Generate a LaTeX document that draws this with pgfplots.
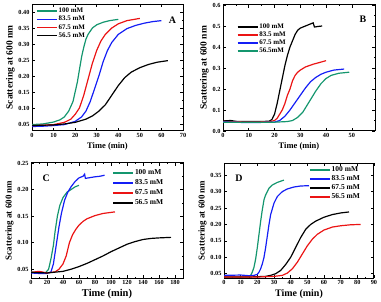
\documentclass[border=0pt]{standalone}
\usepackage{fontspec}
\setmainfont{Liberation Serif}
\usepackage{pgfplots}
\pgfplotsset{compat=1.18}
\definecolor{cg}{RGB}{20,150,110}
\definecolor{cb}{RGB}{20,30,245}
\definecolor{cr}{RGB}{235,20,20}
\pgfplotsset{panel/.style={
  scale only axis,
  axis line style={line width=1pt},
  every tick/.style={black, line width=0.6pt},
  major tick length=3pt, minor tick length=1.5pt,
  tick align=inside, minor tick num=1,
  /pgf/number format/assume math mode=true,
  tick label style={font=\bfseries\fontsize{6.3}{7}\selectfont},
  xticklabel style={yshift=1pt},
  yticklabel style={xshift=1pt},
  xlabel style={font=\bfseries\fontsize{8.5}{9}\selectfont, yshift=2pt},
  ylabel style={font=\bfseries\fontsize{9.5}{10}\selectfont, yshift=-3pt},
  ylabel={Scattering at 600 nm},
  xlabel={Time (min)},
  legend cell align=left,
  legend style={draw=none, fill=none, font=\bfseries\fontsize{7}{8}\selectfont, inner sep=0pt, outer sep=0pt,
    nodes={inner sep=1pt}},
  legend image code/.code={\draw[#1,line width=1.7pt,solid] (0bp,0bp) -- (20bp,0bp);},
  every axis plot/.append style={line width=1.2pt, mark=none},
}}
\begin{document}
\begin{tikzpicture}[x=1bp,y=1bp]
\useasboundingbox (0,0) rectangle (381,302);
% Panel A
\begin{axis}[panel, at={(32bp,171bp)}, anchor=south west, width=151bp, height=127bp,
  xmin=0, xmax=70, ymin=0.028, ymax=0.425,
  xtick={0,10,...,70}, ytick={0.05,0.10,0.15,0.20,0.25,0.30,0.35,0.40},
  yticklabel style={/pgf/number format/fixed, /pgf/number format/fixed zerofill, /pgf/number format/precision=2},
  legend style={at={(0.026,0.975)}, anchor=north west}]
\addplot[cg] coordinates {(0,0.048)(5,0.050)(10,0.056)(13,0.063)(15,0.072)(17,0.09)(19,0.12)(20,0.15)(21,0.18)(22,0.22)(23,0.26)(24,0.29)(25,0.315)(26,0.33)(28,0.35)(30,0.36)(33,0.368)(36,0.373)(40,0.377)};
\addlegendentry{100 mM}
\addplot[cb] coordinates {(0,0.042)(5,0.043)(10,0.045)(15,0.048)(20,0.058)(23,0.072)(25,0.09)(27,0.12)(29,0.16)(31,0.2)(33,0.245)(35,0.28)(37,0.305)(40,0.33)(44,0.348)(48,0.358)(52,0.365)(56,0.37)(60,0.373)};
\addlegendentry{83.5 mM}
\addplot[cr] coordinates {(0,0.045)(5,0.046)(10,0.048)(15,0.055)(18,0.065)(20,0.08)(22,0.1)(24,0.14)(26,0.19)(28,0.24)(30,0.28)(32,0.31)(34,0.33)(37,0.35)(40,0.363)(44,0.373)(50,0.38)};
\addlegendentry{67.5 mM}
\addplot[black] coordinates {(0,0.045)(5,0.046)(10,0.047)(15,0.05)(20,0.055)(25,0.065)(28,0.075)(31,0.09)(34,0.11)(37,0.14)(40,0.17)(43,0.195)(46,0.212)(50,0.226)(54,0.236)(58,0.243)(63,0.248)};
\addlegendentry{56.5 mM}
\node[font=\bfseries\fontsize{10}{11}\selectfont] at (rel axis cs:0.93,0.87) {A};
\end{axis}
% Panel B
\begin{axis}[panel, at={(223bp,171bp)}, anchor=south west, width=152bp, height=126bp,
  xmin=0, xmax=59, ymin=0, ymax=0.6,
  xtick={0,10,...,50}, ytick={0,0.1,0.2,0.3,0.4,0.5,0.6},
  yticklabel style={/pgf/number format/fixed, /pgf/number format/fixed zerofill, /pgf/number format/precision=1},
  legend style={at={(0.09,0.86)}, anchor=north west}]
\addplot[black] coordinates {(0,0.048)(3,0.05)(5,0.046)(10,0.045)(15,0.045)(18,0.047)(19,0.055)(20,0.08)(21,0.13)(22,0.19)(23,0.25)(24,0.31)(25,0.36)(26,0.4)(27,0.43)(28,0.46)(29,0.48)(30,0.49)(32,0.5)(34,0.51)(35,0.515)(35.5,0.495)(37,0.498)(38.5,0.5)};
\addlegendentry{100 mM}
\addplot[cr] coordinates {(0,0.045)(10,0.043)(18,0.044)(20,0.05)(21,0.06)(22,0.08)(23,0.1)(24,0.13)(25,0.17)(26,0.2)(27,0.24)(28,0.265)(29,0.28)(30,0.29)(32,0.305)(35,0.318)(38,0.328)(40,0.335)};
\addlegendentry{83.5 mM}
\addplot[cb] coordinates {(0,0.043)(10,0.04)(20,0.042)(22,0.05)(24,0.07)(26,0.1)(28,0.135)(30,0.17)(32,0.205)(34,0.235)(36,0.255)(38,0.27)(40,0.28)(43,0.29)(47,0.295)};
\addlegendentry{67.5 mM}
\addplot[cg] coordinates {(0,0.042)(10,0.042)(20,0.042)(25,0.045)(27,0.05)(29,0.065)(31,0.09)(32,0.11)(34,0.15)(36,0.19)(38,0.225)(40,0.25)(42,0.265)(45,0.275)(49,0.28)};
\addlegendentry{56.5mM}
\node[font=\bfseries\fontsize{10}{11}\selectfont] at (rel axis cs:0.92,0.89) {B};
\end{axis}
% Panel C
\begin{axis}[panel, at={(31bp,24bp)}, anchor=south west, width=152bp, height=115bp,
  xmin=0, xmax=190, ymin=0.0335, ymax=0.25,
  xtick={0,20,...,180}, ytick={0.05,0.10,0.15,0.20,0.25},
  yticklabel style={/pgf/number format/fixed, /pgf/number format/fixed zerofill, /pgf/number format/precision=2},
  xlabel style={font=\bfseries\fontsize{10.5}{11}\selectfont},
  ylabel style={font=\bfseries\fontsize{9}{10}\selectfont},
  legend style={at={(0.535,0.95)}, anchor=north west, row sep=1.5pt, font=\bfseries\fontsize{7.5}{8}\selectfont}]
\addplot[cg] coordinates {(0,0.045)(10,0.043)(18,0.043)(22,0.05)(25,0.07)(28,0.095)(30,0.12)(33,0.15)(36,0.17)(40,0.185)(45,0.195)(50,0.2)(55,0.205)(60,0.208)};
\addlegendentry{100 mM}
\addplot[cb] coordinates {(0,0.043)(10,0.042)(20,0.042)(25,0.045)(28,0.06)(30,0.08)(32,0.1)(35,0.13)(38,0.155)(42,0.18)(46,0.195)(50,0.205)(55,0.215)(60,0.222)(65,0.225)(67,0.229)(68,0.221)(72,0.222)(80,0.224)(86,0.225)(92,0.227)};
\addlegendentry{83.5 mM}
\addplot[cr] coordinates {(0,0.044)(10,0.046)(20,0.043)(30,0.045)(35,0.05)(40,0.06)(44,0.075)(48,0.1)(52,0.115)(56,0.125)(60,0.133)(65,0.14)(70,0.145)(80,0.151)(90,0.155)(100,0.157)(105,0.158)};
\addlegendentry{67.5 mM}
\addplot[black] coordinates {(0,0.044)(20,0.043)(40,0.046)(50,0.05)(60,0.055)(70,0.061)(80,0.068)(90,0.075)(100,0.083)(110,0.09)(120,0.097)(130,0.102)(140,0.106)(150,0.108)(160,0.109)(175,0.11)};
\addlegendentry{56.5 mM}
\node[font=\bfseries\fontsize{10}{11}\selectfont] at (rel axis cs:0.1,0.87) {C};
\end{axis}
% Panel D
\begin{axis}[panel, at={(224bp,24bp)}, anchor=south west, width=150bp, height=115bp,
  xmin=0, xmax=90, ymin=0.037, ymax=0.387,
  xtick={0,10,...,90}, ytick={0.05,0.10,0.15,0.20,0.25,0.30,0.35},
  yticklabel style={/pgf/number format/fixed, /pgf/number format/fixed zerofill, /pgf/number format/precision=2},
  xlabel style={font=\bfseries\fontsize{10}{11}\selectfont},
  ylabel style={font=\bfseries\fontsize{9}{10}\selectfont},
  legend style={at={(0.567,0.975)}, anchor=north west, row sep=0.5pt, font=\bfseries\fontsize{7.5}{8}\selectfont}]
\addplot[cg] coordinates {(0,0.04)(10,0.04)(15,0.041)(16,0.045)(17,0.055)(18,0.07)(19,0.095)(20,0.13)(21,0.17)(22,0.21)(23,0.245)(24,0.275)(25,0.29)(27,0.31)(29,0.32)(32,0.328)(36,0.335)};
\addlegendentry{100 mM}
\addplot[cb] coordinates {(0,0.045)(10,0.046)(15,0.044)(18,0.045)(20,0.048)(21,0.055)(22,0.065)(23,0.08)(24,0.1)(25,0.13)(26,0.165)(27,0.2)(28,0.23)(30,0.265)(32,0.285)(35,0.3)(38,0.308)(42,0.314)(46,0.317)(51,0.318)};
\addlegendentry{83.5 mM}
\addplot[black] coordinates {(0,0.04)(15,0.04)(25,0.042)(28,0.045)(31,0.05)(34,0.06)(37,0.078)(40,0.1)(43,0.13)(46,0.16)(49,0.185)(52,0.2)(55,0.21)(60,0.222)(65,0.23)(70,0.235)(75,0.238)};
\addlegendentry{67.5 mM}
\addplot[cr] coordinates {(0,0.04)(20,0.04)(30,0.042)(35,0.045)(38,0.052)(41,0.065)(44,0.085)(47,0.11)(50,0.135)(53,0.155)(56,0.17)(60,0.183)(65,0.192)(70,0.196)(76,0.199)(82,0.2)};
\addlegendentry{56.5 mM}
\node[font=\bfseries\fontsize{10}{11}\selectfont] at (rel axis cs:0.1,0.87) {D};
\end{axis}
\end{tikzpicture}
\end{document}
